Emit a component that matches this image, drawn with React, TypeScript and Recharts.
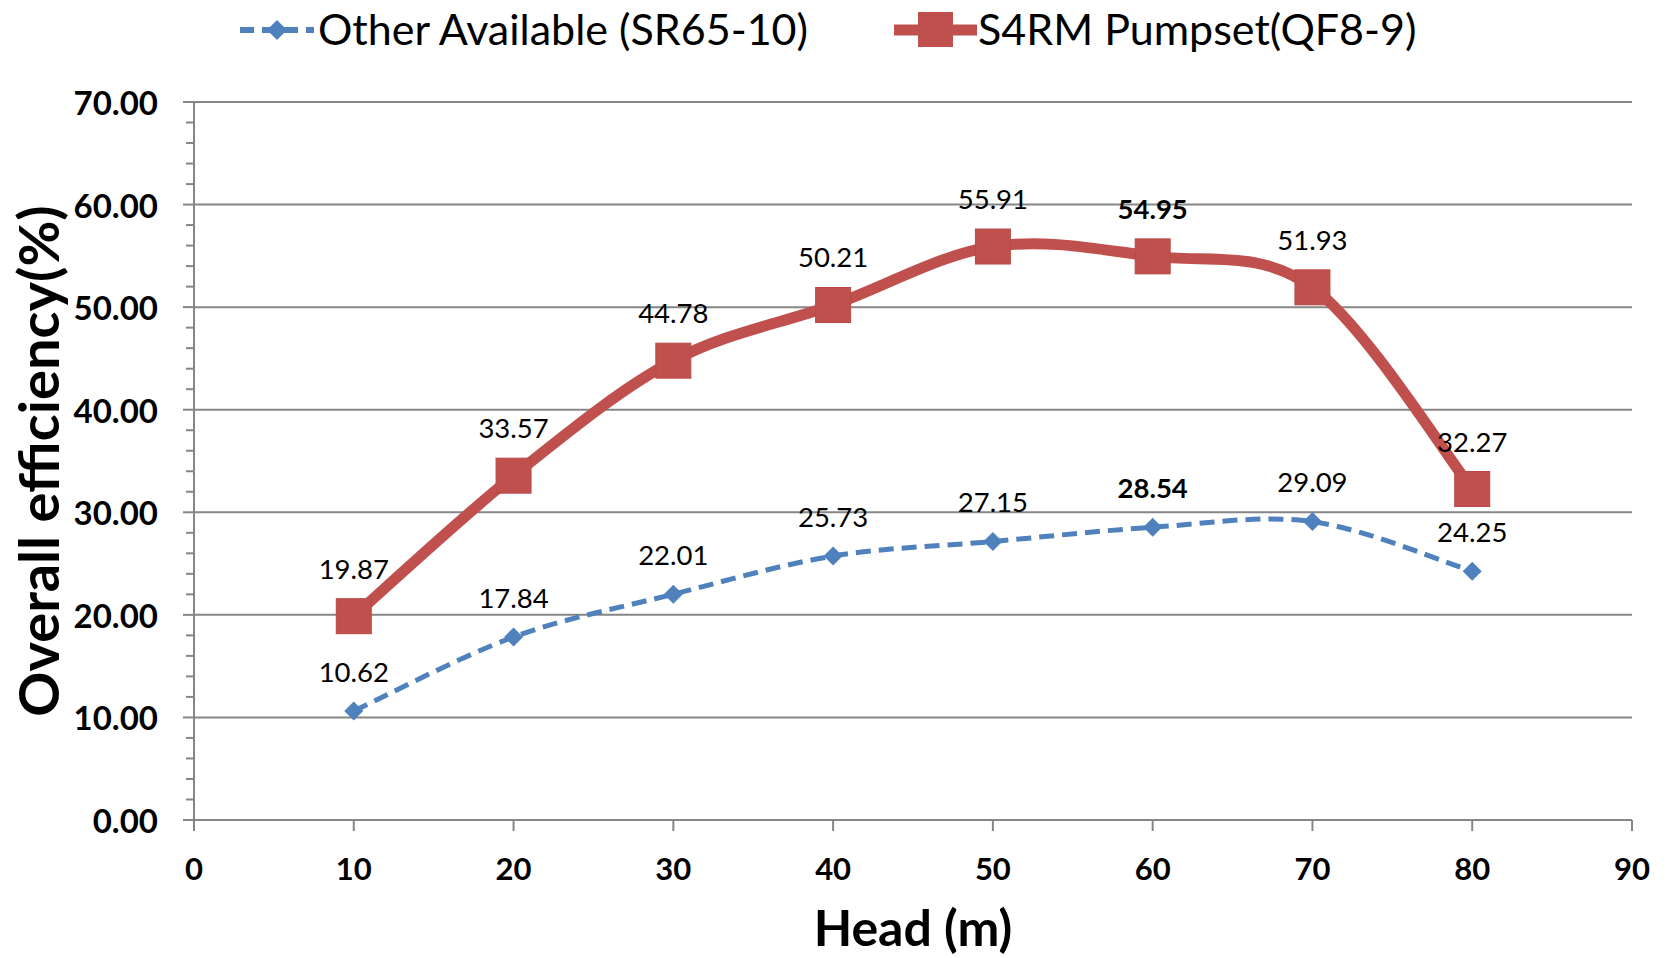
import React from 'react';
import { LineChart, Line, XAxis, YAxis, ReferenceLine, LabelList } from 'recharts';

// head values (m)
const heads = [10, 20, 30, 40, 50, 60, 70, 80];
const otherAvailable = [10.62, 17.84, 22.01, 25.73, 27.15, 28.54, 29.09, 24.25];
const s4rmPumpset = [19.87, 33.57, 44.78, 50.21, 55.91, 54.95, 51.93, 32.27];
const xTicks = [0, 10, 20, 30, 40, 50, 60, 70, 80, 90];
const yTicks = Array.from({ length: 36 }, (_, i) => i * 2);
const gridValues = [10, 20, 30, 40, 50, 60, 70];
const boldHead = 60;

const BLUE = '#4F81BD';
const RED = '#C0504D';
const AXIS = '#868686';
const FONT = 'Lato, "Open Sans", sans-serif';

const chartData = heads.map((h, i) => ({
    head: h,
    other: otherAvailable[i],
    s4rm: s4rmPumpset[i],
}));

// excel-like smoothing (catmull-rom through the points)
const excelSmooth = (ctx: any) => {
    let pts: number[][] = [];
    return {
        areaStart() {},
        areaEnd() {},
        lineStart() { pts = []; },
        point(x: number, y: number) { pts.push([+x, +y]); },
        lineEnd() {
            if (!pts.length) return;
            ctx.moveTo(pts[0][0], pts[0][1]);
            for (let i = 0; i < pts.length - 1; i++) {
                const p0 = pts[Math.max(i - 1, 0)];
                const p1 = pts[i];
                const p2 = pts[i + 1];
                const p3 = pts[Math.min(i + 2, pts.length - 1)];
                ctx.bezierCurveTo(
                    p1[0] + (p2[0] - p0[0]) / 6, p1[1] + (p2[1] - p0[1]) / 6,
                    p2[0] - (p3[0] - p1[0]) / 6, p2[1] - (p3[1] - p1[1]) / 6,
                    p2[0], p2[1]
                );
            }
        },
    };
};

const SquareDot = (props: any) => {
    const { cx, cy } = props;
    if (cx == null || cy == null) return null;
    return <rect x={cx - 17.5} y={cy - 17.5} width={35} height={35} fill={RED} stroke="#B94A47" strokeWidth={1} />;
};

const DiamondDot = (props: any) => {
    const { cx, cy } = props;
    if (cx == null || cy == null) return null;
    const r = 9.5;
    return <path d={`M${cx},${cy - r}L${cx + r},${cy}L${cx},${cy + r}L${cx - r},${cy}Z`} fill={BLUE} />;
};

const makeLabel = (dy: number) => (props: any) => {
    const { x, y, value, index } = props;
    const bold = heads[index] === boldHead;
    return (
        <text
            x={x}
            y={y - dy}
            textAnchor="middle"
            dominantBaseline="central"
            fontFamily={FONT}
            fontSize={27.5}
            fontWeight={bold ? 700 : 400}
            fill="#000"
        >
            {value.toFixed(2)}
        </text>
    );
};

const YTick = (props: any) => {
    const { x, y, payload } = props;
    const major = payload.value % 10 === 0;
    return (
        <g>
            <line x1={x - (major ? 11 : 8)} y1={y} x2={x} y2={y} stroke={AXIS} strokeWidth={2} />
            {major && (
                <text x={x - 36} y={y} textAnchor="end" dominantBaseline="central"
                    fontFamily={FONT} fontSize={33} fontWeight={700} fill="#000">
                    {payload.value.toFixed(2)}
                </text>
            )}
        </g>
    );
};

const XTick = (props: any) => {
    const { x, y, payload } = props;
    return (
        <g>
            <line x1={x} y1={y} x2={x} y2={y + 11} stroke={AXIS} strokeWidth={2} />
            <text x={x} y={y + 48} textAnchor="middle" dominantBaseline="central"
                fontFamily={FONT} fontSize={31} fontWeight={700} fill="#000">
                {payload.value}
            </text>
        </g>
    );
};

function LegendBar() {
    return (
        <div style={{ position: 'absolute', left: 0, top: 0, width: 1669, height: 60, fontFamily: FONT }}>
            <svg width={1669} height={60} style={{ position: 'absolute', left: 0, top: 0 }}>
                <line x1={240} y1={30} x2={314} y2={30} stroke={BLUE} strokeWidth={6} strokeDasharray="14 8" />
                <path d="M277,20L287,30L277,40L267,30Z" fill={BLUE} />
                <line x1={894} y1={30} x2={977} y2={30} stroke={RED} strokeWidth={11} />
                <rect x={918} y={12} width={35} height={35} fill={RED} />
            </svg>
            <div style={{ position: 'absolute', left: 318, top: 28, transform: 'translateY(-50%)', fontSize: 43, whiteSpace: 'nowrap', color: '#000' }}>
                Other Available (SR65-10)
            </div>
            <div style={{ position: 'absolute', left: 978, top: 28, transform: 'translateY(-50%)', fontSize: 43, whiteSpace: 'nowrap', color: '#000' }}>
                S4RM Pumpset(QF8-9)
            </div>
        </div>
    );
}

export default function App() {
    return (
        <div style={{ position: 'absolute', left: 0, top: 0, width: 1669, height: 958, background: '#fff' }}>
            <LineChart
                width={1669}
                height={958}
                data={chartData}
                margin={{ top: 102, right: 37, left: 0, bottom: 0 }}
            >
                {gridValues.map(v => (
                    <ReferenceLine key={v} y={v} stroke={AXIS} strokeWidth={2} />
                ))}
                <XAxis
                    dataKey="head"
                    type="number"
                    domain={[0, 90]}
                    ticks={xTicks}
                    interval={0}
                    height={138}
                    tickLine={false}
                    tickSize={0}
                    tickMargin={0}
                    axisLine={{ stroke: AXIS, strokeWidth: 2 }}
                    tick={<XTick />}
                    label={(p: any) => {
                        const vb = p.viewBox;
                        return (
                            <text x={vb.x + vb.width / 2} y={927} textAnchor="middle" dominantBaseline="central"
                                fontFamily={FONT} fontSize={50} fontWeight={700} fill="#000">
                                Head (m)
                            </text>
                        );
                    }}
                />
                <YAxis
                    type="number"
                    domain={[0, 70]}
                    ticks={yTicks}
                    interval={0}
                    width={194}
                    tickLine={false}
                    tickSize={0}
                    tickMargin={0}
                    axisLine={{ stroke: AXIS, strokeWidth: 2 }}
                    tick={<YTick />}
                    label={(p: any) => {
                        const vb = p.viewBox;
                        const cy = vb.y + vb.height / 2;
                        return (
                            <text x={37} y={cy} transform={`rotate(-90, 37, ${cy})`} textAnchor="middle"
                                dominantBaseline="central" fontFamily={FONT} fontSize={56} fontWeight={700} fill="#000">
                                Overall efficiency(%)
                            </text>
                        );
                    }}
                />
                <Line
                    dataKey="other"
                    type={excelSmooth as any}
                    stroke={BLUE}
                    strokeWidth={5}
                    strokeDasharray="15 8"
                    dot={<DiamondDot />}
                    activeDot={false}
                    isAnimationActive={false}
                >
                    <LabelList dataKey="other" content={makeLabel(40)} />
                </Line>
                <Line
                    dataKey="s4rm"
                    type={excelSmooth as any}
                    stroke={RED}
                    strokeWidth={11}
                    dot={<SquareDot />}
                    activeDot={false}
                    isAnimationActive={false}
                >
                    <LabelList dataKey="s4rm" content={makeLabel(48)} />
                </Line>
            </LineChart>
            <LegendBar />
        </div>
    );
}
